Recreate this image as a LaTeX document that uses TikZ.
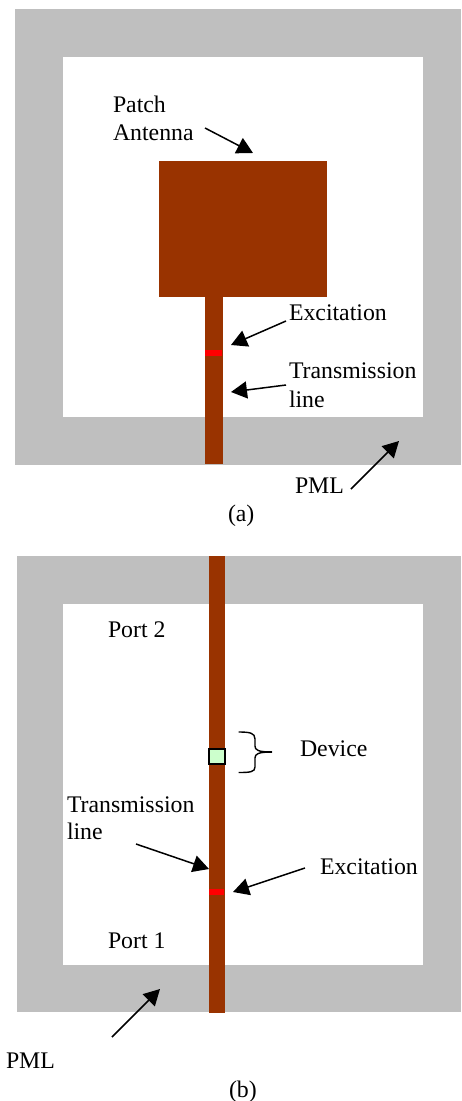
\documentclass[tikz,border=0pt]{standalone}
\usepackage{fontspec}
\setmainfont{Liberation Serif}
\usetikzlibrary{arrows.meta,positioning,calc}
\definecolor{pmlgray}{HTML}{BFBFBF}
\definecolor{copper}{HTML}{993300}
\definecolor{devgreen}{HTML}{CCFFCC}

\begin{document}
\begin{tikzpicture}[
        x=1pt,
        y=-1pt,
        >={Triangle[length=16pt,width=17pt]},
        every node/.style={font=\fontsize{23.8}{28.5}\selectfont, align=left, inner sep=0pt, outer sep=0pt},
        lbl/.style={anchor=base west},
        plate/.style={anchor=north west, minimum width=#1},
        pml/.style={plate=#1, fill=pmlgray},
        air/.style={plate=#1, fill=white},
        metal/.style={plate=#1, fill=copper},
        source/.style={plate=#1, fill=red},
        callout/.style={->, line width=1.5pt}
    ]
        \useasboundingbox (0,0) rectangle (461,1101);

        \node[pml=446pt, minimum height=456pt] (pmla) at (15,9) {};
        \node[air=360pt, minimum height=360pt] (aira) at (63,57) {};
        \node[metal=168pt, minimum height=136pt] (patch) at (159,161) {};
        \node[metal=18pt, minimum height=167pt] (feeda) at (205,297) {};
        \node[source=16.5pt, minimum height=6pt] (exca) at (205,349.5) {};

        \node[lbl] (patchlbl) at (113,112) {Patch};
        \node[lbl] (antlbl) at (113,140) {Antenna};
        \node[lbl] (exclbla) at (289,320) {Excitation};
        \node[lbl] (txlbla) at (289,378) {Transmission};
        \node[lbl] (linelbla) at (289,407) {line};
        \node[lbl] (pmllbla) at (295,493) {PML};
        \node[lbl] (capa) at (228,521) {(a)};

        \coordinate (patchtip) at (253,153);
        \coordinate (exctipa) at (231,345);
        \coordinate (txtipa) at (231,392);
        \coordinate (pmltipa) at (399,441);
        \draw[callout] ([shift={(92,-12)}]antlbl.base west) -- (patchtip);
        \draw[callout] ([shift={(-3,1)}]exclbla.base west) -- (exctipa);
        \draw[callout] ([shift={(-3,7)}]txlbla.base west) -- (txtipa);
        \draw[callout] ([shift={(56,-4)}]pmllbla.base west) -- (pmltipa);

        \node[pml=444pt, minimum height=456pt] (pmlb) at (17,556) {};
        \node[air=360pt, minimum height=361pt] (airb) at (63,604) {};
        \node[metal=16pt, minimum height=457pt] (feedb) at (209,556) {};
        \node[source=14.5pt, minimum height=6pt] (excb) at (209,889) {};
        \node[draw, line width=2pt, fill=devgreen, minimum width=15.5pt, minimum height=15.5pt] (device) at (217,756.5) {};

        \node[lbl] (port2) at (108,637) {Port 2};
        \node[lbl] (port1) at (108,948) {Port 1};
        \node[lbl] (devlbl) at (300,756) {Device};
        \node[lbl] (txlblb) at (67,812) {Transmission};
        \node[lbl] (linelblb) at (67,839) {line};
        \node[lbl] (exclblb) at (320,874) {Excitation};
        \node[lbl] (pmllblb) at (6,1068) {PML};
        \node[lbl] (capb) at (229,1097) {(b)};

        \coordinate (txtipb) at (209,869);
        \coordinate (exctipb) at (233,892);
        \coordinate (pmltipb) at (160,989);
        \draw[callout] ([shift={(69,5)}]linelblb.base west) -- (txtipb);
        \draw[callout] ([shift={(-15,-6)}]exclblb.base west) -- (exctipb);
        \draw[callout] ([shift={(106,-31)}]pmllblb.base west) -- (pmltipb);

        \draw[line width=1.4pt] (238.7,732) .. controls (250,732) and (255,733) .. (255,739)
            -- (255,746) .. controls (255,750) and (258,752) .. (272,752)
            .. controls (258,752) and (255,754) .. (255,758)
            -- (255,767) .. controls (255,772) and (250,772.5) .. (238.7,772.5);
        \draw[line width=2pt] (260,752) -- (272,752);
    \end{tikzpicture}
\end{document}
